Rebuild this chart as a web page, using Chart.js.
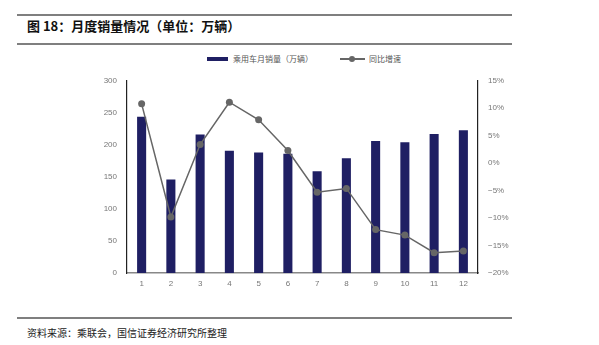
<!DOCTYPE html>
<html lang="zh">
<head>
<meta charset="UTF-8">
<title>月度销量情况</title>
<script src="https://cdn.jsdelivr.net/npm/chart.js"></script>
<style>
    * { margin: 0; padding: 0; box-sizing: border-box; }
    body { width: 599px; height: 345px; background: #fff; position: relative; overflow: hidden;
           font-family: "Noto Sans CJK SC", "Noto Sans", sans-serif; }
    .rule { position: absolute; left: 17px; width: 495px; background: #7f7f7f; }
    .title { position: absolute; left: 27px; top: 16px; font-size: 13px; font-weight: bold; color: #111; }
    .legend { position: absolute; top: 52px; left: 0; width: 599px; height: 14px; font-size: 8px; color: #555; }
    .legend span { position: absolute; top: 0; line-height: 14px; }
    .sw-bar { position: absolute; left: 207px; top: 5px; width: 21px; height: 4px; background: #1f1f63; }
    .sw-line { position: absolute; left: 340px; top: 6px; width: 25px; height: 1.5px; background: #666; }
    .sw-dot { position: absolute; left: 349px; top: 4px; width: 6px; height: 6px; border-radius: 50%; background: #666; }
    .chart-box { position: absolute; left: 90px; top: 66px; width: 440px; height: 231px; }
    .source { position: absolute; left: 27px; top: 325px; font-size: 10px; color: #222; }
</style>
</head>
<body>
    <div class="rule" style="top:14px;height:1.5px"></div>
    <div class="title">图 18：月度销量情况（单位：万辆）</div>
    <div class="rule" style="top:43px;height:2px"></div>

    <div class="legend">
        <div class="sw-bar"></div>
        <span style="left:233px">乘用车月销量（万辆）</span>
        <div class="sw-line"></div>
        <div class="sw-dot"></div>
        <span style="left:369px">同比增速</span>
    </div>

    <div class="chart-box"><canvas id="salesChart"></canvas></div>

    <div class="rule" style="top:317px;height:2px"></div>
    <div class="source">资料来源：乘联会，国信证券经济研究所整理</div>

<script>
    const months = ['1', '2', '3', '4', '5', '6', '7', '8', '9', '10', '11', '12'];
    const monthlySales = [244, 146, 216, 191, 188, 186, 159, 179, 206, 204, 217, 223];
    const yoyGrowth = [10.8, -9.8, 3.4, 11.1, 7.9, 2.3, -5.3, -4.6, -12.1, -13.1, -16.3, -16.0];

    const tickFont = { family: 'Arial, "Liberation Sans", sans-serif', size: 8 };

    new Chart(document.getElementById('salesChart'), {
        data: {
            labels: months,
            datasets: [{
                type: 'line',
                label: '同比增速',
                data: yoyGrowth,
                yAxisID: 'y1',
                borderColor: '#666',
                backgroundColor: '#666',
                borderWidth: 1.5,
                pointRadius: 3.5,
                pointBackgroundColor: '#666',
                pointBorderWidth: 0,
                tension: 0,
                order: 0
            }, {
                type: 'bar',
                label: '乘用车月销量（万辆）',
                data: monthlySales,
                yAxisID: 'y',
                backgroundColor: '#1f1f63',
                barPercentage: 0.62,
                categoryPercentage: 0.5,
                order: 1
            }]
        },
        options: {
            responsive: true,
            maintainAspectRatio: false,
            animation: false,
            layout: { padding: { top: 6, right: 0, left: 0, bottom: 0 } },
            plugins: { legend: { display: false }, tooltip: { enabled: false } },
            scales: {
                x: {
                    grid: { display: false, drawTicks: false },
                    border: { color: '#888', width: 1.5 },
                    ticks: { color: '#777', font: tickFont, padding: 6 },
                    afterFit: s => { s.height = 24; }
                },
                y: {
                    position: 'left',
                    min: 0, max: 300,
                    grid: { display: false, drawTicks: false },
                    border: { color: '#222', width: 1.2 },
                    ticks: { stepSize: 50, color: '#777', font: tickFont, padding: 10 },
                    afterFit: s => { s.width = 37; }
                },
                y1: {
                    position: 'right',
                    min: -20, max: 15,
                    grid: { display: false, drawTicks: false },
                    border: { color: '#222', width: 1.2 },
                    ticks: {
                        stepSize: 5, color: '#777', font: tickFont, padding: 10,
                        callback: v => (v < 0 ? '\u2212' + Math.abs(v) : v) + '%'
                    },
                    afterFit: s => { s.width = 52; }
                }
            }
        }
    });
</script>
</body>
</html>
